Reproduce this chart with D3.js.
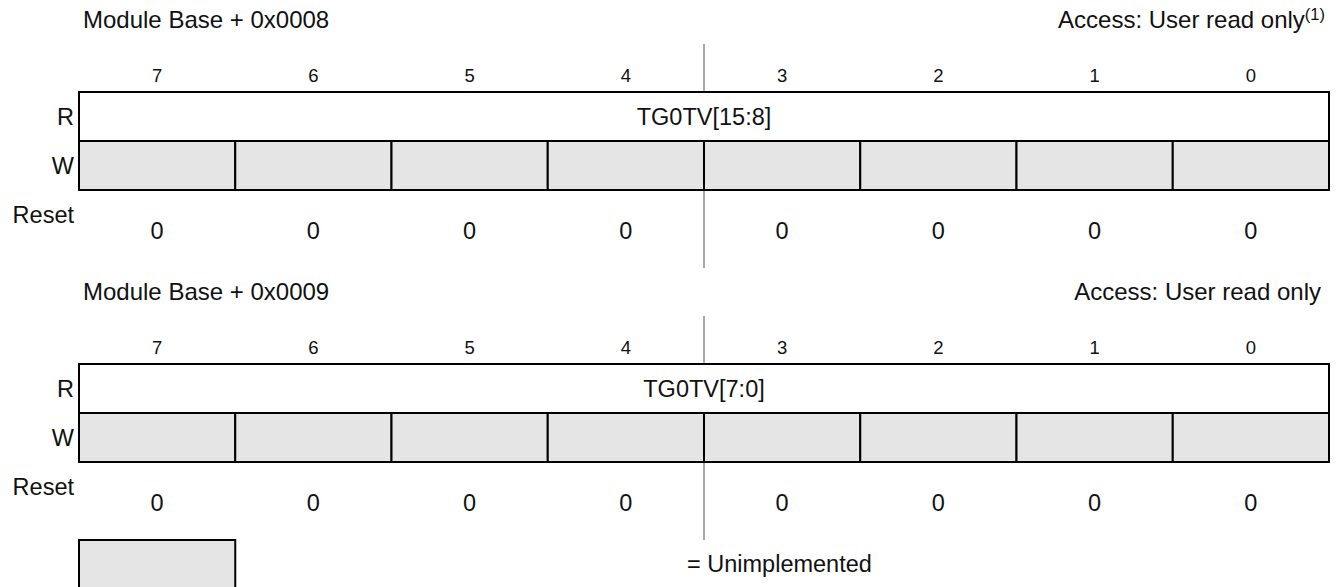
<!DOCTYPE html>
<html>
<head>
<meta charset="utf-8">
<script src="https://cdn.jsdelivr.net/npm/d3@7"></script>
<style>
  html, body { margin: 0; padding: 0; background: #fff; }
  svg { display: block; }
  text { font-family: "Liberation Sans", Arial, Helvetica, sans-serif; fill: #111; }
</style>
</head>
<body>
<svg id="chart" width="1339" height="587"></svg>
<script>
// ---- data ----
const addresses = ["Module Base + 0x0008", "Module Base + 0x0009"];
const accessTexts = ["Access: User read only", "Access: User read only"];
const accessNotes = ["(1)", ""];
const fieldNames = ["TG0TV[15:8]", "TG0TV[7:0]"];
const bits = [7, 6, 5, 4, 3, 2, 1, 0];
const resetValues = [
  [0, 0, 0, 0, 0, 0, 0, 0],
  [0, 0, 0, 0, 0, 0, 0, 0]
];
const rowLabels = ["R", "W"];
const resetLabel = "Reset";
const legendText = "= Unimplemented";

// ---- layout ----
const svg = d3.select("#chart");
const x = d3.scaleBand().domain(bits).range([79, 1329]).padding(0);
const regY = d3.scaleLinear().domain([0, 1]).range([0, 272]);
const rowY = d3.scaleBand().domain(rowLabels).range([92, 190]).padding(0);
const GRAY = "#e5e5e5";
const FS = 23.5;

addresses.forEach((addr, i) => {
  const g = svg.append("g").attr("transform", `translate(0,${regY(i)})`);

  // centre gray divider
  g.append("line")
    .attr("x1", 704).attr("x2", 704).attr("y1", 44).attr("y2", 268)
    .attr("stroke", "#8c8c8c").attr("stroke-width", 1.5);

  // header texts
  g.append("text").attr("x", 83).attr("y", 28)
    .style("font-size", "24px").text(addr);
  const acc = g.append("text").attr("text-anchor", "end")
    .attr("x", accessNotes[i] ? 1325 : 1321).attr("y", 28)
    .style("font-size", "24px");
  acc.append("tspan").text(accessTexts[i]);
  if (accessNotes[i]) {
    acc.append("tspan").attr("dy", -8).style("font-size", "16.5px").text(accessNotes[i]);
  }

  // bit numbers
  g.selectAll(".bitnum").data(bits).enter().append("text")
    .attr("x", d => x(d) + x.bandwidth() / 2).attr("y", 82)
    .attr("text-anchor", "middle").style("font-size", "18.5px").text(d => d);

  // R row (white, spans all bits)
  g.append("rect")
    .attr("x", x(bits[0])).attr("y", rowY("R"))
    .attr("width", x.bandwidth() * bits.length).attr("height", rowY.bandwidth())
    .attr("fill", "#fff");
  // W row cells (unimplemented)
  g.selectAll(".wcell").data(bits).enter().append("rect")
    .attr("x", d => x(d)).attr("y", rowY("W"))
    .attr("width", x.bandwidth()).attr("height", rowY.bandwidth())
    .attr("fill", GRAY).attr("stroke", "#000").attr("stroke-width", 2);
  // R row outline
  g.append("rect")
    .attr("x", x(bits[0])).attr("y", rowY("R"))
    .attr("width", x.bandwidth() * bits.length).attr("height", rowY.bandwidth())
    .attr("fill", "none").attr("stroke", "#000").attr("stroke-width", 2);

  // field name
  g.append("text")
    .attr("x", x(bits[0]) + x.bandwidth() * bits.length / 2)
    .attr("y", rowY("R") + rowY.bandwidth() / 2).attr("dy", "0.36em")
    .attr("text-anchor", "middle").style("font-size", FS + "px").text(fieldNames[i]);

  // row labels
  g.selectAll(".rowlab").data(rowLabels).enter().append("text")
    .attr("x", 74).attr("y", d => rowY(d) + rowY.bandwidth() / 2).attr("dy", "0.36em")
    .attr("text-anchor", "end").style("font-size", FS + "px").text(d => d);

  // reset
  g.append("text").attr("x", 74).attr("y", 223)
    .attr("text-anchor", "end").style("font-size", FS + "px").text(resetLabel);
  g.selectAll(".rst").data(resetValues[i]).enter().append("text")
    .attr("x", (d, j) => x(bits[j]) + x.bandwidth() / 2).attr("y", 238.5)
    .attr("text-anchor", "middle").style("font-size", FS + "px").text(d => d);
});

// legend
svg.append("rect")
  .attr("x", x(bits[0])).attr("y", 540)
  .attr("width", x.bandwidth()).attr("height", 60)
  .attr("fill", GRAY).attr("stroke", "#000").attr("stroke-width", 2);
svg.append("text").attr("x", 687).attr("y", 572)
  .style("font-size", FS + "px").text(legendText);
</script>
</body>
</html>
